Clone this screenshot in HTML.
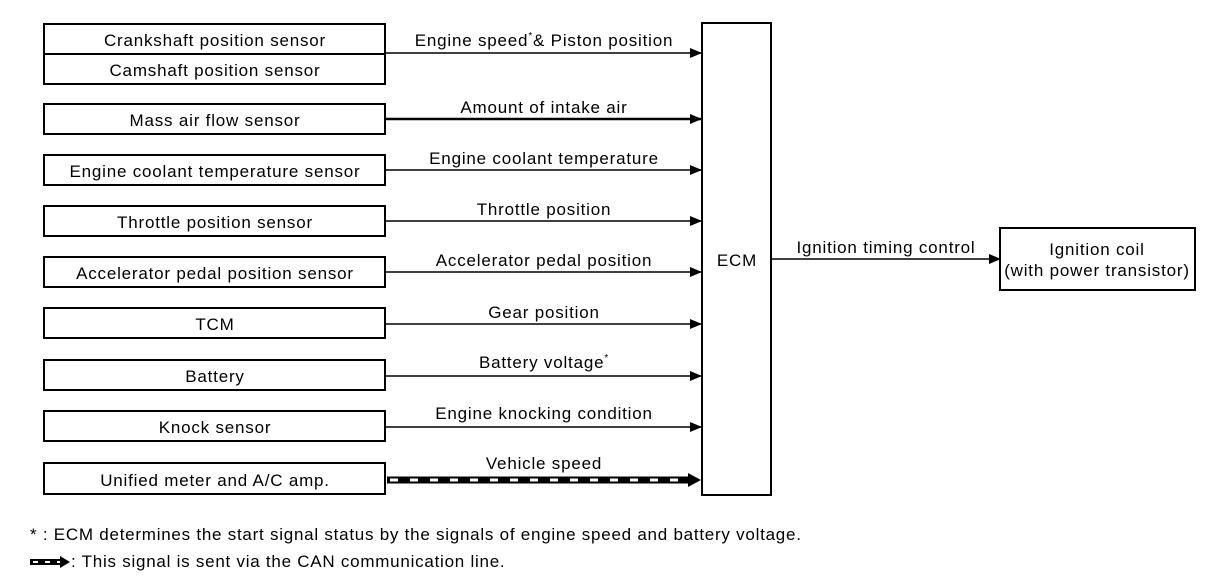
<!DOCTYPE html>
<html><head><style>
body{margin:0;background:#fff;}
svg text{font-family:"Liberation Sans",Arial,sans-serif;font-size:17px;letter-spacing:0.8px;fill:#000;}
</style></head><body>
<svg width="1216" height="582" xmlns="http://www.w3.org/2000/svg">
<defs><marker id="a" markerWidth="12" markerHeight="12" refX="11" refY="6" orient="auto" markerUnits="userSpaceOnUse"><path d="M0,1 L12,6 L0,11 Z" fill="#000"/></marker></defs>
<g fill="none" stroke="#000" stroke-width="2">
<rect x="44" y="24" width="341" height="60"/><line x1="44" y1="54" x2="385" y2="54"/>
<rect x="44" y="104" width="341" height="30"/>
<rect x="44" y="155" width="341" height="30"/>
<rect x="44" y="206" width="341" height="30"/>
<rect x="44" y="257" width="341" height="30"/>
<rect x="44" y="308" width="341" height="30"/>
<rect x="44" y="360" width="341" height="30"/>
<rect x="44" y="411" width="341" height="30"/>
<rect x="44" y="463" width="341" height="31"/>
<rect x="702" y="23" width="69" height="472"/>
<rect x="1000" y="228" width="195" height="62"/>
</g>
<g stroke="#000" stroke-width="1.5" marker-end="url(#a)">
<line x1="385" y1="53" x2="701" y2="53"/>
<line x1="385" y1="119" x2="701" y2="119" stroke-width="2.5"/>
<line x1="385" y1="170" x2="701" y2="170"/>
<line x1="385" y1="221" x2="701" y2="221"/>
<line x1="385" y1="272" x2="701" y2="272"/>
<line x1="385" y1="324" x2="701" y2="324"/>
<line x1="385" y1="376" x2="701" y2="376"/>
<line x1="385" y1="427" x2="701" y2="427"/>
<line x1="771" y1="259" x2="1000" y2="259"/>
</g>
<line x1="387" y1="480" x2="690" y2="480" stroke="#000" stroke-width="7"/>
<line x1="390" y1="480" x2="690" y2="480" stroke="#fff" stroke-width="3" stroke-dasharray="8 12"/>
<path d="M688,473 L701,480 L688,487 Z" fill="#000"/>
<g text-anchor="middle">
<text x="215" y="46">Crankshaft position sensor</text>
<text x="215" y="76">Camshaft position sensor</text>
<text x="215" y="126">Mass air flow sensor</text>
<text x="215" y="177">Engine coolant temperature sensor</text>
<text x="215" y="228">Throttle position sensor</text>
<text x="215" y="279">Accelerator pedal position sensor</text>
<text x="215" y="330">TCM</text>
<text x="215" y="382">Battery</text>
<text x="215" y="433">Knock sensor</text>
<text x="215" y="486">Unified meter and A/C amp.</text>
<text x="544" y="46">Engine speed<tspan font-size="10" dy="-7">*</tspan><tspan dy="7">&amp; Piston position</tspan></text>
<text x="544" y="113">Amount of intake air</text>
<text x="544" y="164">Engine coolant temperature</text>
<text x="544" y="215">Throttle position</text>
<text x="544" y="266">Accelerator pedal position</text>
<text x="544" y="318">Gear position</text>
<text x="544" y="368">Battery voltage<tspan font-size="10" dy="-7">*</tspan></text>
<text x="544" y="419">Engine knocking condition</text>
<text x="544" y="469">Vehicle speed</text>
<text x="737" y="266">ECM</text>
<text x="886" y="253">Ignition timing control</text>
<text x="1097" y="255">Ignition coil</text>
<text x="1097" y="276">(with power transistor)</text>
</g>
<text x="30" y="540" font-size="16.5" style="letter-spacing:0.75px">* : ECM determines the start signal status by the signals of engine speed and battery voltage.</text>
<line x1="30" y1="562" x2="60" y2="562" stroke="#000" stroke-width="6"/>
<line x1="33" y1="562" x2="60" y2="562" stroke="#fff" stroke-width="2" stroke-dasharray="5 7"/>
<path d="M60,556 L70,562 L60,568 Z" fill="#000"/>
<text x="71" y="567" font-size="16.5" style="letter-spacing:0.75px">: This signal is sent via the CAN communication line.</text>
</svg>
</body></html>
